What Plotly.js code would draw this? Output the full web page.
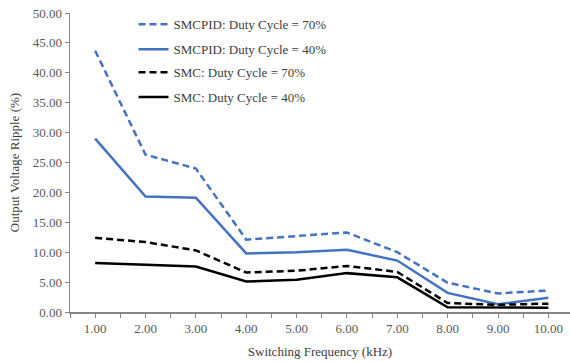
<!DOCTYPE html>
<html>
<head>
<meta charset="utf-8">
<script src="https://cdn.plot.ly/plotly-3.0.1.min.js"></script>
<style>html,body{margin:0;padding:0;background:#fff;}#chart{width:570px;height:362px;}</style>
</head>
<body>
<div id="chart"></div>
<script>
const freq = [1, 2, 3, 4, 5, 6, 7, 8, 9, 10];
const tickLabels = ["1.00","2.00","3.00","4.00","5.00","6.00","7.00","8.00","9.00","10.00"];
const smcpid70 = [43.7, 26.3, 24.0, 12.1, 12.7, 13.3, 10.0, 4.9, 3.1, 3.6];
const smcpid40 = [29.0, 19.3, 19.1, 9.8, 10.0, 10.4, 8.6, 3.2, 1.3, 2.4];
const smc70 = [12.4, 11.7, 10.3, 6.6, 6.9, 7.7, 6.7, 1.5, 1.2, 1.4];
const smc40 = [8.2, 7.9, 7.6, 5.1, 5.4, 6.5, 5.8, 0.8, 0.7, 0.7];
const names = ["SMCPID: Duty Cycle = 70%", "SMCPID: Duty Cycle = 40%", "SMC: Duty Cycle = 70%", "SMC: Duty Cycle = 40%"];

const blue = "#4472C4";
const mk = (y, name, color, dash, leg) => ({
  x: freq, y: y, name: name, type: "scatter", mode: "lines",
  line: {color: color, width: 2.5, dash: dash}, legend: leg
});
const traces = [
  mk(smcpid70, names[0], blue, "7px,4px", "legend"),
  mk(smcpid40, names[1], blue, "solid", "legend2"),
  mk(smc70, names[2], "#000000", "7px,4px", "legend3"),
  mk(smc40, names[3], "#000000", "solid", "legend4")
];
const fam = "'Liberation Serif', 'Times New Roman', serif";
const font = {family: fam, size: 13, color: "#404040"};
const legBase = (y) => ({x: 0.127, y: y, xanchor: "left", yanchor: "middle", bgcolor: "rgba(0,0,0,0)", borderwidth: 0, font: font});
const layout = {
  width: 570, height: 362,
  margin: {l: 70, r: 0, t: 13, b: 50},
  paper_bgcolor: "#fff", plot_bgcolor: "#fff",
  font: font,
  showlegend: true,
  legend: legBase(0.962),
  legend2: legBase(0.879),
  legend3: legBase(0.802),
  legend4: legBase(0.719),
  xaxis: {
    range: [0.5, 10.43], tickvals: freq, ticktext: tickLabels,
    showgrid: false, zeroline: false, showline: true, linecolor: "#868686", linewidth: 1.5,
    ticks: "outside", ticklen: 4, tickcolor: "#868686",
    minor: {dtick: 0.5, tick0: 0.5, ticks: "outside", ticklen: 4, tickcolor: "#868686", showgrid: false},
    tickfont: {family: fam, size: 13, color: "#595959"},
    title: {text: "Switching Frequency (kHz)", font: {family: fam, size: 13, color: "#404040"}, standoff: 12}
  },
  yaxis: {
    range: [0, 50], dtick: 5, tickformat: ".2f",
    showgrid: false, zeroline: false, showline: true, linecolor: "#868686", linewidth: 1.5,
    ticks: "outside", ticklen: 4, tickcolor: "#868686",
    tickfont: {family: fam, size: 13, color: "#595959"},
    title: {text: "Output Voltage Ripple (%)", font: {family: fam, size: 13, color: "#404040"}, standoff: 10}
  }
};
Plotly.newPlot("chart", traces, layout, {displayModeBar: false, staticPlot: true});
</script>
</body>
</html>
